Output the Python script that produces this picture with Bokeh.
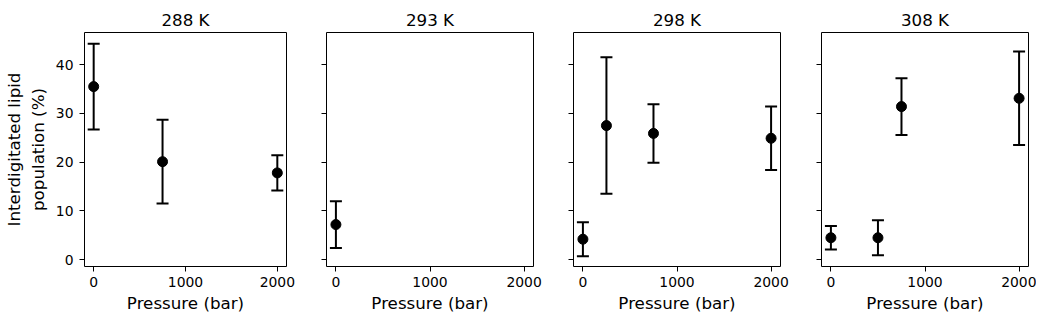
from bokeh.plotting import figure
from bokeh.layouts import row
from bokeh.models import ColumnDataSource, Whisker, TeeHead, FixedTicker, Range1d
from bokeh.embed import file_html
from bokeh.resources import INLINE

temperatures = ["288 K", "293 K", "298 K", "308 K"]

pressure_288 = [0, 750, 2000]
value_288 = [35.5, 20.1, 17.8]
error_288 = [8.8, 8.6, 3.6]

pressure_293 = [0]
value_293 = [7.2]
error_293 = [4.8]

pressure_298 = [0, 250, 750, 2000]
value_298 = [4.2, 27.5, 25.9, 24.9]
error_298 = [3.5, 14.0, 6.0, 6.5]

pressure_308 = [0, 500, 750, 2000]
value_308 = [4.5, 4.5, 31.4, 33.1]
error_308 = [2.4, 3.6, 5.8, 9.6]

x_ticks = [0, 1000, 2000]
y_ticks = [0, 10, 20, 30, 40]

series = [
    (pressure_288, value_288, error_288),
    (pressure_293, value_293, error_293),
    (pressure_298, value_298, error_298),
    (pressure_308, value_308, error_308),
]

FONT = "DejaVu Sans"
x_range = Range1d(-100, 2100)
y_range = Range1d(-1.4, 46.6)

figs = []
for i, (title, (px, py, pe)) in enumerate(zip(temperatures, series)):
    first = i == 0
    last = i == 3
    left = 79 if first else (21 if last else 20)
    right = 8 if last else 20
    width = left + 207 + right
    p = figure(width=width, height=315, x_range=x_range, y_range=y_range,
               output_backend="svg", toolbar_location=None,
               min_border_left=left, min_border_right=right,
               min_border_top=32, min_border_bottom=48)
    p.title.text = title
    p.title.align = "center"
    p.title.text_font = FONT
    p.title.text_font_size = "16.7px"
    p.title.text_font_style = "normal"
    p.title.text_color = "black"
    p.title.standoff = 5
    p.grid.visible = False
    p.outline_line_color = "black"
    p.outline_line_width = 1
    p.background_fill_color = "white"
    p.border_fill_color = "white"

    for ax in (p.xaxis[0], p.yaxis[0]):
        ax.axis_line_color = None
        ax.major_tick_line_color = "black"
        ax.major_tick_line_width = 1
        ax.major_tick_out = 5
        ax.major_tick_in = 0
        ax.minor_tick_line_color = None
        ax.major_label_text_font = FONT
        ax.major_label_text_font_size = "13.9px"
        ax.major_label_text_color = "black"
        ax.axis_label_text_font = FONT
        ax.axis_label_text_font_size = "16.7px"
        ax.axis_label_text_font_style = "normal"
        ax.axis_label_text_color = "black"
    p.xaxis.ticker = FixedTicker(ticks=x_ticks)
    p.yaxis.ticker = FixedTicker(ticks=y_ticks)
    p.xaxis.axis_label = "Pressure (bar)"
    p.xaxis.major_label_standoff = 5
    p.xaxis.axis_label_standoff = 3
    p.yaxis.major_label_standoff = 6
    if first:
        p.yaxis.axis_label = "Interdigitated lipid\npopulation (%)"
        p.yaxis.axis_label_standoff = 5
    else:
        p.yaxis.major_label_overrides = {t: "" for t in y_ticks}

    lower = [v - e for v, e in zip(py, pe)]
    upper = [v + e for v, e in zip(py, pe)]
    src = ColumnDataSource(dict(x=px, y=py, lower=lower, upper=upper))
    w = Whisker(source=src, base="x", lower="lower", upper="upper",
                line_color="black", line_width=2,
                upper_head=TeeHead(size=12, line_color="black", line_width=2),
                lower_head=TeeHead(size=12, line_color="black", line_width=2))
    p.add_layout(w)
    p.scatter("x", "y", source=src, size=10, fill_color="black", line_color="black")
    figs.append(p)

layout = row(*figs, spacing=0)
open("out.html", "w").write(file_html(layout, INLINE))
